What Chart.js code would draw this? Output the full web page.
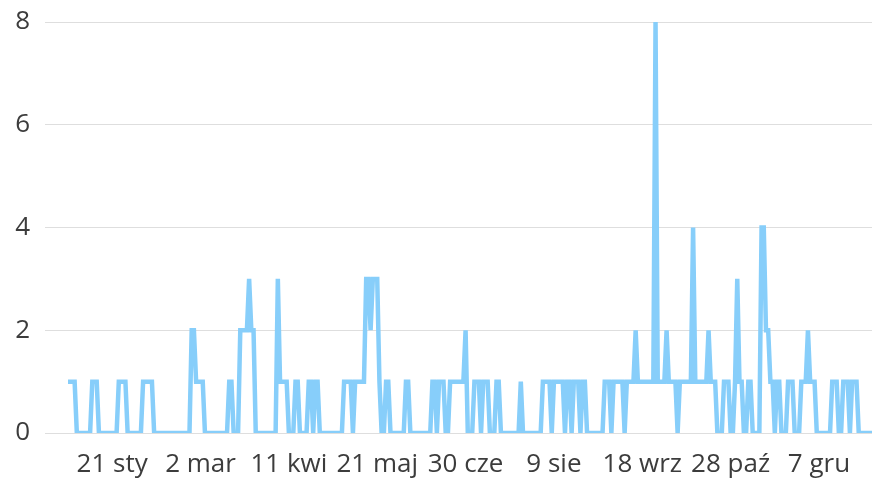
<!DOCTYPE html>
<html>
<head>
<meta charset="utf-8">
<script src="https://cdn.jsdelivr.net/npm/chart.js@4.4.1/dist/chart.umd.min.js"></script>
<style>
  html, body { margin: 0; padding: 0; background: #fff; overflow: hidden; }
  canvas { display: block; }
</style>
</head>
<body>
<canvas id="myChart" width="872" height="483"></canvas>
<script>
// daily counts, one array per month (non-leap year)
const jan = [1,1,1,1,0,0,0,0,0,0,0,1,1,1,0,0,0,0,0,0,0,0,0,1,1,1,1,0,0,0,0];
const feb = [0,0,0,1,1,1,1,1,0,0,0,0,0,0,0,0,0,0,0,0,0,0,0,0,0,2,2,1];
const mar = [1,1,1,0,0,0,0,0,0,0,0,0,0,0,1,1,0,0,0,2,2,2,2,3,2,2,0,0,0,0,0];
const apr = [0,0,0,0,0,3,1,1,1,1,0,0,0,1,1,0,0,0,0,1,1,0,1,1,0,0,0,0,0,0];
const may = [0,0,0,0,0,1,1,1,1,0,1,1,1,1,1,3,3,2,3,3,3,1,0,0,1,1,0,0,0,0,0];
const jun = [0,0,1,1,0,0,0,0,0,0,0,0,0,0,1,1,0,1,1,1,0,0,1,1,1,1,1,1,1,2];
const jul = [0,0,0,1,1,1,0,1,1,1,0,0,0,1,1,0,0,0,0,0,0,0,0,0,1,0,0,0,0,0,0];
const aug = [0,0,0,1,1,1,1,0,1,1,1,1,1,0,1,1,0,1,1,1,0,1,1,0,0,0,0,0,0,0,0];
const sep = [1,1,1,0,1,1,1,1,1,0,1,1,1,1,2,1,1,1,1,1,1,1,1,8,1,1,1,1,2,1];
const oct = [1,1,1,0,1,1,1,1,1,1,4,1,1,1,1,1,1,2,1,1,1,0,0,0,1,1,1,0,0,1,3];
const nov = [1,1,0,0,1,1,0,0,0,0,4,4,2,2,1,1,0,1,1,0,0,0,1,1,1,0,0,0,1,1];
const dec = [1,2,1,1,1,0,0,0,0,0,0,0,1,1,1,0,0,1,1,1,0,1,1,1,0,0,0,0,0,0,0];

const monthNames = ['sty','lut','mar','kwi','maj','cze','lip','sie','wrz','paź','lis','gru'];
const tickLabels = ['21 sty','2 mar','11 kwi','21 maj','30 cze','9 sie','18 wrz','28 paź','7 gru'];
const yTicks = [0, 2, 4, 6, 8];

const values = [...jan, ...feb, ...mar, ...apr, ...may, ...jun,
                ...jul, ...aug, ...sep, ...oct, ...nov, ...dec];

// one category per day, labelled like "21 sty"
const days = [];
for (let i = 0; i < values.length; i++) {
    const d = new Date(2017, 0, 1 + i);
    days.push(d.getDate() + ' ' + monthNames[d.getMonth()]);
}

const tickFamily = "'Open Sans', sans-serif";

const config = {
    type: 'line',
    data: {
        labels: days,
        datasets: [{
            data: values,
            borderColor: '#87cefa',
            borderWidth: 4.5,
            pointRadius: 0,
            tension: 0,
            fill: false
        }]
    },
    options: {
        responsive: false,
        animation: false,
        layout: { padding: { top: 22, right: 0, left: 0, bottom: 0 } },
        plugins: { legend: { display: false }, tooltip: { enabled: false } },
        scales: {
            x: {
                type: 'category',
                // invisible tick marks only push the labels down
                grid: { display: true, drawOnChartArea: false, color: 'transparent', drawTicks: true, tickLength: 16 },
                border: { display: false },
                ticks: {
                    autoSkip: false,
                    maxRotation: 0,
                    padding: 0,
                    color: '#3c3c3c',
                    font: { family: tickFamily, size: 26 },
                    callback: function (value) {
                        const lab = this.getLabelForValue(value);
                        return tickLabels.includes(lab) ? lab : '';
                    }
                },
                afterFit: (scale) => { scale.height = 50; }
            },
            y: {
                min: 0,
                max: 8,
                grid: { color: '#dedede', lineWidth: 1, tickLength: 23 },
                border: { display: false },
                afterBuildTicks: (scale) => { scale.ticks = yTicks.map(v => ({ value: v })); },
                ticks: {
                    padding: 15,
                    color: '#3c3c3c',
                    font: { family: tickFamily, size: 26, lineHeight: 0.5 }
                },
                afterFit: (scale) => { scale.width = 68; }
            }
        }
    }
};

const myChart = new Chart(document.getElementById('myChart'), config);
</script>
</body>
</html>
